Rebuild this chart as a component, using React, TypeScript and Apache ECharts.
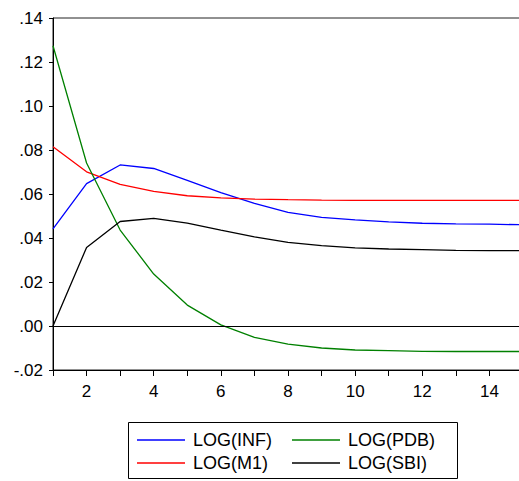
import React, { useEffect, useRef } from "react";
import * as echarts from "echarts";

const periods = [1, 2, 3, 4, 5, 6, 7, 8, 9, 10, 11, 12, 13, 14, 15];
const logINF = [0.0441, 0.0647, 0.0732, 0.0716, 0.0662, 0.0606, 0.0557, 0.0516, 0.0494, 0.0482, 0.0473, 0.0467, 0.0464, 0.0463, 0.0460];
const logM1 = [0.0815, 0.0701, 0.0644, 0.0612, 0.0592, 0.0582, 0.0577, 0.0574, 0.0572, 0.0571, 0.0571, 0.0571, 0.0571, 0.0571, 0.0571];
const logPDB = [0.1274, 0.0741, 0.0436, 0.0236, 0.0095, 0.0005, -0.0052, -0.0082, -0.0100, -0.0109, -0.0112, -0.0115, -0.0116, -0.0116, -0.0116];
const logSBI = [0.0, 0.0357, 0.0475, 0.0489, 0.0468, 0.0436, 0.0405, 0.0380, 0.0365, 0.0355, 0.0350, 0.0347, 0.0344, 0.0343, 0.0343];

const seriesNames = ["LOG(INF)", "LOG(M1)", "LOG(PDB)", "LOG(SBI)"];
const seriesColors = ["#0000FF", "#FF0000", "#008000", "#000000"];
const seriesData = [logINF, logM1, logPDB, logSBI];

const FONT = "Liberation Sans, Arial, sans-serif";

export default function App() {
  const ref = useRef<HTMLDivElement>(null);
  useEffect(() => {
    if (!ref.current) return;
    const chart = echarts.init(ref.current, undefined, { renderer: "svg" });
    const series: any[] = seriesData.map((d, i) => ({
      name: seriesNames[i],
      type: "line",
      data: d.map((v, j) => [periods[j], v]),
      symbol: "none",
      lineStyle: { color: seriesColors[i], width: 1.3 },
      itemStyle: { color: seriesColors[i] },
      z: 3,
      ...(i === 0
        ? {
            markLine: {
              silent: true,
              symbol: "none",
              label: { show: false },
              lineStyle: { color: "#000", width: 1, type: "solid" },
              data: [{ yAxis: 0 }],
            },
          }
        : {}),
    }));
    const legendCommon = {
      orient: "vertical",
      top: 426,
      icon: "rect",
      itemWidth: 48,
      itemHeight: 1.5,
      itemGap: 5,
      textStyle: { color: "#000", fontFamily: FONT, fontSize: 18, padding: [0, 0, 0, 3] },
      selectedMode: false,
    };
    chart.setOption({
      animation: false,
      backgroundColor: "#fff",
      grid: {
        left: 53,
        top: 18,
        right: -4,
        bottom: 111,
        outerBoundsMode: "none",
        containLabel: false,
        show: true,
        borderColor: "#222",
        borderWidth: 1,
        backgroundColor: "transparent",
      },
      xAxis: {
        type: "value",
        min: 1,
        max: 15,
        interval: 1,
        axisLine: { show: true, onZero: false, lineStyle: { color: "#000", width: 1 } },
        axisTick: { show: true, length: 6, inside: false, lineStyle: { color: "#000" } },
        splitLine: { show: false },
        axisLabel: {
          color: "#000",
          fontFamily: FONT,
          fontSize: 17,
          margin: 13,
          formatter: (v: number) => (v % 2 === 0 ? String(v) : ""),
        },
      },
      yAxis: {
        type: "value",
        min: -0.02,
        max: 0.14,
        interval: 0.02,
        axisLine: { show: true, lineStyle: { color: "#000", width: 1 } },
        axisTick: { show: true, length: 4, lineStyle: { color: "#000" } },
        splitLine: { show: false },
        axisLabel: {
          color: "#000",
          fontFamily: FONT,
          fontSize: 17,
          margin: 10,
          formatter: (v: number) => {
            const s = (Math.round(v * 100) / 100).toFixed(2);
            return s.replace(/^(-?)0\./, "$1.");
          },
        },
      },
      legend: [
        { ...legendCommon, data: ["LOG(INF)", "LOG(M1)"], left: 132 },
        { ...legendCommon, data: ["LOG(PDB)", "LOG(SBI)"], left: 287 },
      ],
      graphic: [
        {
          type: "rect",
          left: 128,
          top: 422,
          shape: { width: 329, height: 56 },
          style: { fill: "transparent", stroke: "#000", lineWidth: 1 },
          silent: true,
        },
      ],
      series,
    });
    return () => chart.dispose();
  }, []);
  return (
    <div
      ref={ref}
      style={{ width: 519, height: 481, position: "absolute", left: 0, top: 0, overflow: "hidden" }}
    />
  );
}
